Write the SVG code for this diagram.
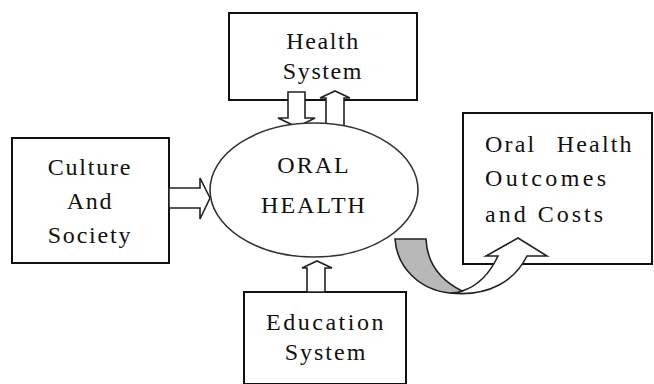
<svg xmlns="http://www.w3.org/2000/svg" width="654" height="384" viewBox="0 0 654 384">
<style>
.box{fill:#fff;stroke:#111;stroke-width:2}
.ell{fill:#fff;stroke:#333;stroke-width:1.6}
.arr{fill:#fff;stroke:#222;stroke-width:1.6;stroke-linejoin:miter}
.gray{fill:#b8b8b8;stroke:#222;stroke-width:1.6}
text{font-family:"Liberation Serif","Times New Roman",serif;font-size:24px;fill:#111}
.c{text-anchor:middle}
</style>
<rect width="654" height="384" fill="#fff"/>
<g id="health-system"><rect class="box" x="229" y="13" width="188" height="87"/>
<text class="c" x="323" y="49" letter-spacing="1.6">Health</text>
<text class="c" x="323" y="79" letter-spacing="1.6">System</text></g>
<g id="culture"><rect class="box" x="12" y="138" width="157" height="125"/>
<text class="c" x="90" y="175" letter-spacing="1.8">Culture</text>
<text class="c" x="90" y="209" letter-spacing="1.8">And</text>
<text class="c" x="90" y="243" letter-spacing="1.8">Society</text></g>
<g id="outcomes"><rect class="box" x="463" y="113" width="189" height="151"/>
<text x="485" y="152" letter-spacing="2.2" word-spacing="12">Oral Health</text>
<text x="485" y="186" letter-spacing="3.4">Outcomes</text>
<text x="485" y="222" letter-spacing="3">and Costs</text></g>
<g id="education"><rect class="box" x="244" y="292" width="162" height="92"/>
<text class="c" x="326" y="330" letter-spacing="2.5">Education</text>
<text class="c" x="326" y="360" letter-spacing="2">System</text></g>
<g id="connectors">
<path class="arr" d="M288,92 L305,92 L305,118 L315,118 L297,127 L278,118 L288,118 Z"/>
<path class="arr" d="M326,127 L344,127 L344,98 L350,98 L335,91 L320,98 L326,98 Z"/>
<path class="arr" d="M169,188 L200,188 L200,178 L210,198 L200,219 L200,208 L169,208 Z"/>
<path class="arr" d="M307,292 L325,292 L325,268 L332,268 L317,261 L302,268 L307,268 Z"/>
</g>
<g id="oral-health"><ellipse class="ell" cx="314" cy="190" rx="104" ry="67"/>
<text class="c" x="314" y="173" letter-spacing="2">ORAL</text>
<text class="c" x="314" y="213" letter-spacing="2">HEALTH</text></g>
<g id="curved-arrow">
<path class="arr" d="M450,293 C490,297 515,280 527,256 L547,256 L518,238 L486,256 L498,256 C490,273 478,286 462,291 Z"/>
<path class="gray" d="M395,239 L426,239 C427,262 440,280 462,291 C458,293 454,293 450,293 C420,290 397,268 395,239 Z"/>
</g>
</svg>
